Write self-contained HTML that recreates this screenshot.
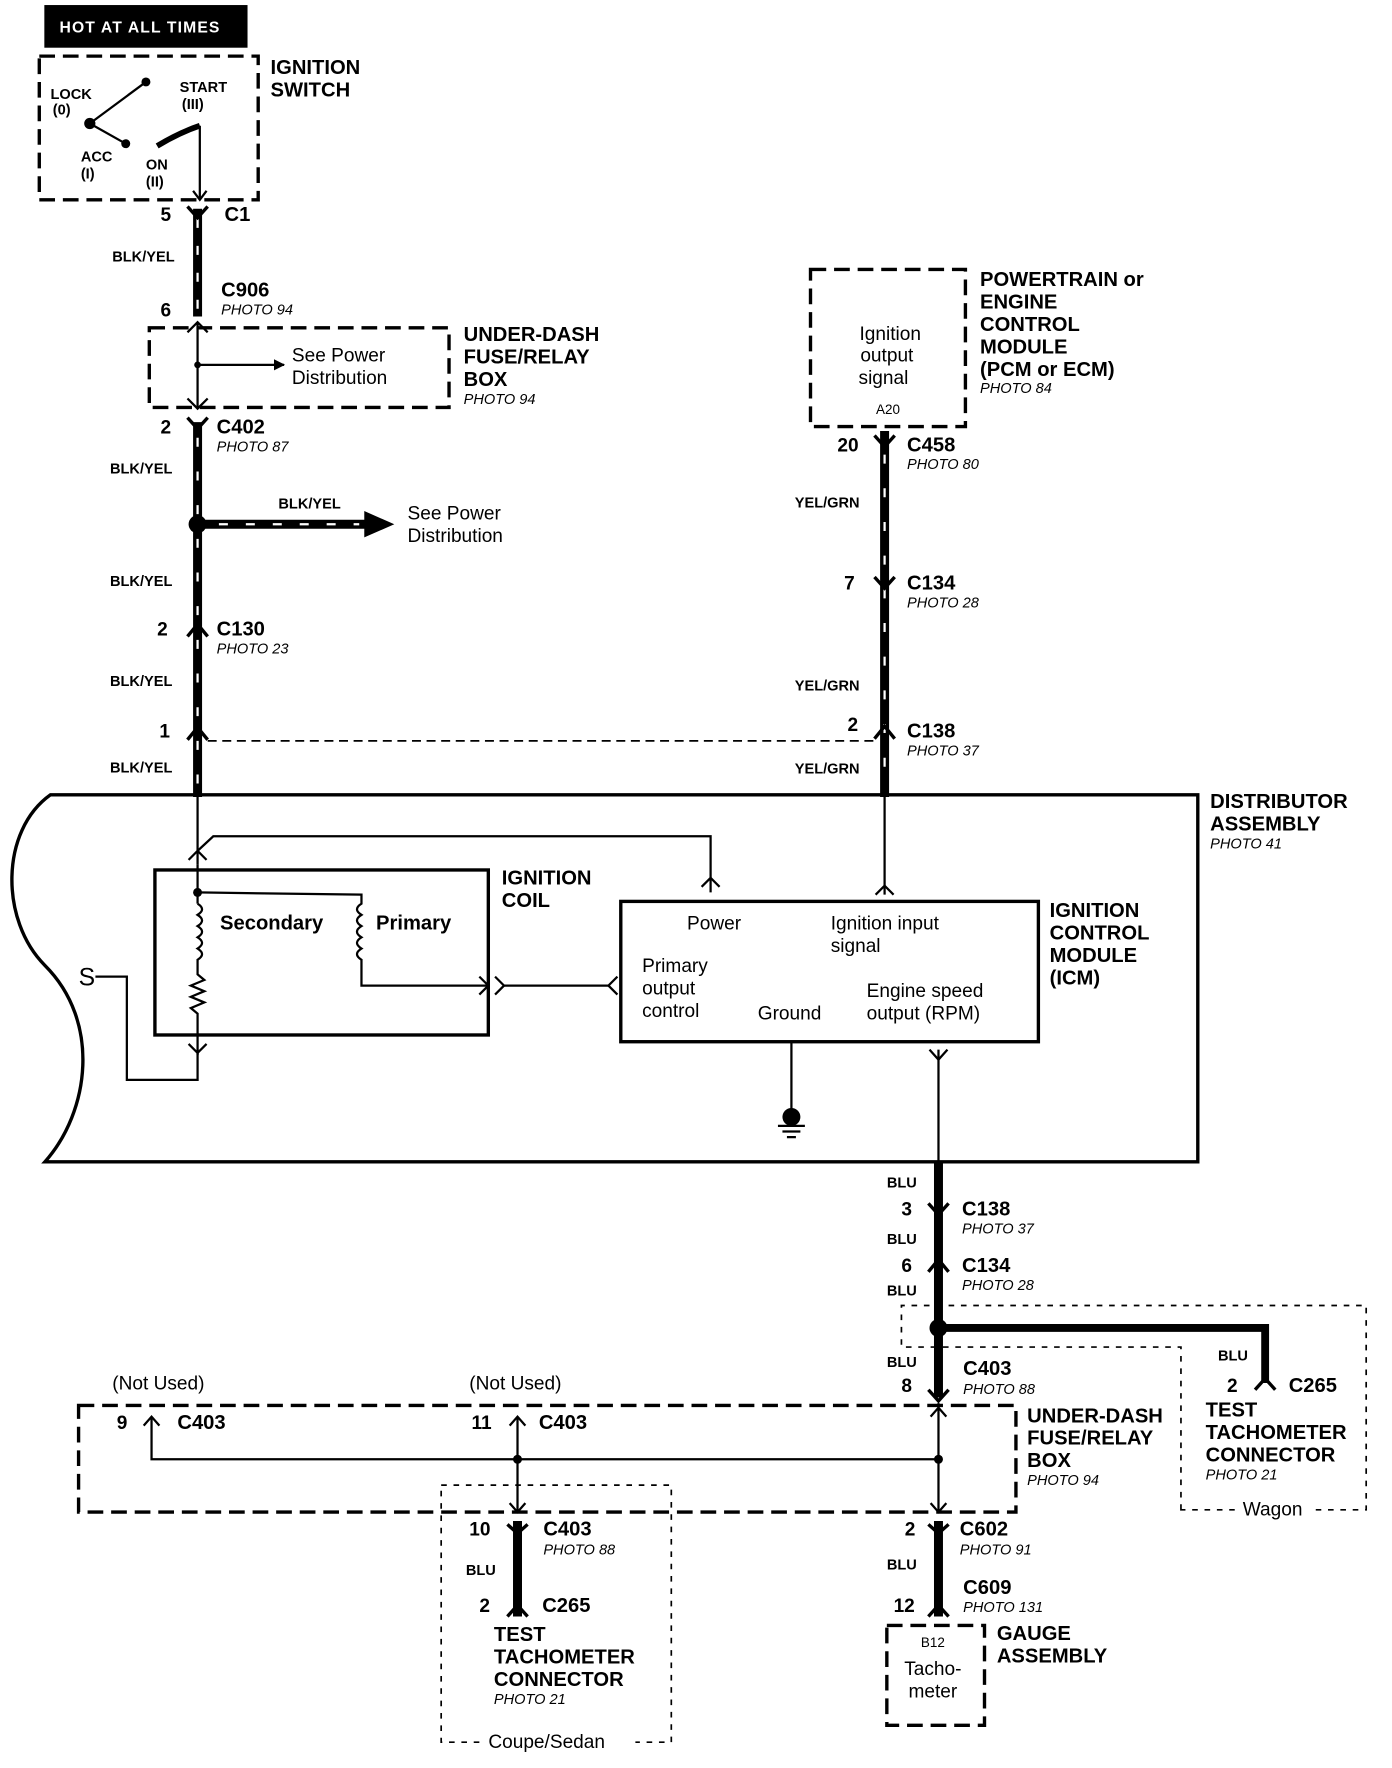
<!DOCTYPE html>
<html><head><meta charset="utf-8"><style>
html,body{margin:0;padding:0;background:#fff;}
svg{display:block;}
text{font-family:"Liberation Sans",Arial,sans-serif;fill:#000;}
.b{font-weight:bold;font-size:18px;}
.w{font-weight:bold;font-size:13px;}
.p{font-style:italic;font-size:13px;}
.n{font-size:17px;}
.pin{font-weight:bold;font-size:17px;}
</style></head><body>
<svg width="1392" height="1768" viewBox="0 0 1240 1575" preserveAspectRatio="none" xmlns="http://www.w3.org/2000/svg">
<defs>
<marker id="ah" markerWidth="10" markerHeight="10" refX="9" refY="5" orient="auto" markerUnits="userSpaceOnUse"><path d="M0,0 L10,5 L0,10 Z" fill="#000"/></marker>
</defs>
<g fill="none" stroke="#000">
<rect x="40" y="5" width="180" height="37" fill="#000"/>
<rect x="35" y="50" width="195" height="128" stroke-width="3" stroke-dasharray="14,7"/>
<line x1="80" y1="110" x2="130" y2="73" stroke-width="2"/>
<line x1="80" y1="110" x2="112" y2="128" stroke-width="2"/>
<path d="M140,130 Q160,118 178,112" stroke-width="5"/>
<line x1="178" y1="112" x2="178" y2="178" stroke-width="2"/>
<path d="M172,170 L178,178 L184,170" stroke-width="2"/>
<line x1="176" y1="186" x2="176" y2="282" stroke-width="8"/>
<line x1="176" y1="376" x2="176" y2="710" stroke-width="8"/>
<line x1="176" y1="195" x2="176" y2="282" stroke="#fff" stroke-width="2" stroke-dasharray="8,16"/>
<line x1="176" y1="390" x2="176" y2="700" stroke="#fff" stroke-width="2" stroke-dasharray="8,22"/>
<path d="M167,184 L176,194 L185,184" stroke-width="3"/>
<path d="M167,296 L176,287 L185,296" stroke-width="2"/>
<path d="M167,355 L176,364 L185,355" stroke-width="2"/>
<path d="M167,372 L176,382 L185,372" stroke-width="3"/>
<path d="M167,567 L176,556 L185,567" stroke-width="3"/>
<path d="M167,659 L176,648 L185,659" stroke-width="3"/>
<rect x="133" y="292" width="267" height="71" stroke-width="3" stroke-dasharray="14,7"/>
<line x1="176" y1="287" x2="176" y2="364" stroke-width="2"/>
<line x1="176" y1="325" x2="253" y2="325" stroke-width="2" marker-end="url(#ah)"/>
<line x1="176" y1="467" x2="330" y2="467" stroke-width="8"/>
<path d="M325,456 L350,467 L325,478 Z" fill="#000"/>
<line x1="195" y1="467" x2="320" y2="467" stroke="#fff" stroke-width="2" stroke-dasharray="8,16"/>
<line x1="185" y1="660" x2="780" y2="660" stroke-width="1.5" stroke-dasharray="8,5"/>
<rect x="722" y="240" width="138" height="140" stroke-width="3" stroke-dasharray="14,7"/>
<line x1="788" y1="384" x2="788" y2="710" stroke-width="8"/>
<line x1="788" y1="405" x2="788" y2="700" stroke="#fff" stroke-width="2" stroke-dasharray="8,22"/>
<path d="M779,388 L788,398 L797,388" stroke-width="3"/>
<path d="M779,514 L788,524 L797,514" stroke-width="3"/>
<path d="M779,658 L788,647 L797,658" stroke-width="3"/>
<path d="M45,708 L1067,708 L1067,1035 L40,1035 C80,990 90,910 40,860 C0,820 0,740 45,708 Z" stroke-width="3"/>
<line x1="176" y1="710" x2="176" y2="770" stroke-width="2"/>
<path d="M176,758 L190,745 L633,745 L633,795" stroke-width="2"/>
<path d="M625,790 L633,782 L641,790" stroke-width="2"/>
<path d="M168,766 L176,758 L184,766" stroke-width="2"/>
<rect x="138" y="775" width="297" height="147" stroke-width="3"/>
<line x1="176" y1="770" x2="176" y2="805" stroke-width="2"/>
<path d="M176,805 q8,5 0,10 q8,5 0,10 q8,5 0,10 q8,5 0,10 q8,5 0,10 L176,868 l6,5 l-12,5 l12,5 l-12,5 l12,5 l-12,5 l6,5 L176,940" stroke-width="2"/>
<path d="M168,930 L176,938 L184,930" stroke-width="2"/>
<path d="M176,795 L322,797 L322,805 q-8,5 0,10 q-8,5 0,10 q-8,5 0,10 q-8,5 0,10 q-8,5 0,10 L322,878 L435,878" stroke-width="2"/>
<path d="M427,870 L435,878 L427,886" stroke-width="2"/>
<path d="M441,870 L449,878 L441,886" stroke-width="2"/>
<line x1="449" y1="878" x2="542" y2="878" stroke-width="2"/>
<path d="M550,870 L542,878 L550,886" stroke-width="2"/>
<path d="M85,870 L113,870 L113,962 L176,962 L176,935" stroke-width="2"/>
<rect x="553" y="803" width="372" height="125" stroke-width="3"/>
<line x1="788" y1="710" x2="788" y2="797" stroke-width="2"/>
<path d="M780,797 L788,789 L796,797" stroke-width="2"/>
<line x1="705" y1="928" x2="705" y2="990" stroke-width="2"/>
<line x1="693" y1="1003" x2="717" y2="1003" stroke-width="2"/>
<line x1="697" y1="1008" x2="713" y2="1008" stroke-width="2"/>
<line x1="701" y1="1013" x2="709" y2="1013" stroke-width="2"/>
<line x1="836" y1="935" x2="836" y2="1035" stroke-width="2"/>
<path d="M828,935 L836,944 L844,935" stroke-width="2"/>
<line x1="836" y1="1035" x2="836" y2="1245" stroke-width="8"/>
<path d="M827,1072 L836,1082 L845,1072" stroke-width="3"/>
<path d="M827,1133 L836,1122 L845,1133" stroke-width="3"/>
<path d="M827,1238 L836,1248 L845,1238" stroke-width="3"/>
<path d="M836,1183 L1127,1183 L1127,1232" stroke-width="7"/>
<path d="M1118,1238 L1127,1228 L1136,1238" stroke-width="3"/>
<path d="M1052,1345 L1052,1200 L803,1200 L803,1163 L1217,1163 L1217,1345 Z" stroke-width="1.5" stroke-dasharray="5,6"/>
<rect x="70" y="1252" width="835" height="95" stroke-width="3" stroke-dasharray="14,7"/>
<path d="M135,1262 L135,1300 L836,1300" stroke-width="2"/>
<path d="M128,1270 L135,1262 L142,1270" stroke-width="2"/>
<line x1="461" y1="1262" x2="461" y2="1347" stroke-width="2"/>
<path d="M454,1270 L461,1262 L468,1270" stroke-width="2"/>
<path d="M454,1339 L461,1347 L468,1339" stroke-width="2"/>
<line x1="836" y1="1250" x2="836" y2="1347" stroke-width="2"/>
<path d="M829,1262 L836,1254 L843,1262" stroke-width="2"/>
<path d="M829,1339 L836,1347 L843,1339" stroke-width="2"/>
<rect x="393" y="1323" width="205" height="229" stroke-width="1.5" stroke-dasharray="5,6"/>
<line x1="461" y1="1355" x2="461" y2="1440" stroke-width="8"/>
<path d="M452,1358 L461,1366 L470,1358" stroke-width="3"/>
<path d="M452,1440 L461,1430 L470,1440" stroke-width="3"/>
<line x1="836" y1="1355" x2="836" y2="1440" stroke-width="8"/>
<path d="M827,1358 L836,1366 L845,1358" stroke-width="3"/>
<path d="M827,1440 L836,1430 L845,1440" stroke-width="3"/>
<rect x="790" y="1448" width="87" height="89" stroke-width="3" stroke-dasharray="14,7"/>
</g>
<rect x="1100" y="1338" width="72" height="16" fill="#fff"/>
<rect x="428" y="1542" width="138" height="16" fill="#fff"/>
<g fill="#000">
<circle cx="130" cy="73" r="4"/><circle cx="80" cy="110" r="5"/><circle cx="112" cy="128" r="4"/>
<circle cx="176" cy="325" r="3"/>
<circle cx="176" cy="467" r="8"/>
<circle cx="176" cy="795" r="4"/>
<circle cx="705" cy="995" r="8"/>
<circle cx="836" cy="1183" r="8"/>
<circle cx="461" cy="1300" r="4"/><circle cx="836" cy="1300" r="4"/>
</g>
<text x="53" y="29" style="font-size:14px;font-weight:bold;fill:#fff;letter-spacing:1px">HOT AT ALL TIMES</text>
<text class="b" x="241" y="66">IGNITION</text><text class="b" x="241" y="86">SWITCH</text>
<text class="w" x="45" y="88">LOCK</text><text class="w" x="47" y="102">(0)</text>
<text class="w" x="160" y="82">START</text><text class="w" x="162" y="97">(III)</text>
<text class="w" x="72" y="144">ACC</text><text class="w" x="72" y="159">(I)</text>
<text class="w" x="130" y="151">ON</text><text class="w" x="130" y="166">(II)</text>
<text class="pin" x="143" y="197">5</text><text class="b" x="200" y="197">C1</text>
<text class="w" x="100" y="233">BLK/YEL</text>
<text class="b" x="197" y="264">C906</text><text class="p" x="197" y="280">PHOTO 94</text>
<text class="pin" x="143" y="282">6</text>
<text class="n" x="260" y="322">See Power</text><text class="n" x="260" y="342">Distribution</text>
<text class="b" x="413" y="304">UNDER-DASH</text><text class="b" x="413" y="324">FUSE/RELAY</text><text class="b" x="413" y="344">BOX</text>
<text class="p" x="413" y="360">PHOTO 94</text>
<text class="pin" x="143" y="386">2</text><text class="b" x="193" y="386">C402</text><text class="p" x="193" y="402">PHOTO 87</text>
<text class="w" x="98" y="422">BLK/YEL</text>
<text class="w" x="248" y="453">BLK/YEL</text>
<text class="n" x="363" y="463">See Power</text><text class="n" x="363" y="483">Distribution</text>
<text class="w" x="98" y="522">BLK/YEL</text>
<text class="pin" x="140" y="566">2</text><text class="b" x="193" y="566">C130</text><text class="p" x="193" y="582">PHOTO 23</text>
<text class="w" x="98" y="611">BLK/YEL</text>
<text class="pin" x="142" y="657">1</text>
<text class="w" x="98" y="688">BLK/YEL</text>
<text class="n" x="793" y="303" text-anchor="middle">Ignition</text>
<text class="n" x="790" y="322" text-anchor="middle">output</text>
<text class="n" x="787" y="342" text-anchor="middle">signal</text>
<text x="791" y="369" text-anchor="middle" style="font-size:12px">A20</text>
<text class="b" x="873" y="255">POWERTRAIN or</text><text class="b" x="873" y="275">ENGINE</text><text class="b" x="873" y="295">CONTROL</text><text class="b" x="873" y="315">MODULE</text><text class="b" x="873" y="335">(PCM or ECM)</text>
<text class="p" x="873" y="350">PHOTO 84</text>
<text class="pin" x="746" y="402">20</text><text class="b" x="808" y="402">C458</text><text class="p" x="808" y="418">PHOTO 80</text>
<text class="w" x="708" y="452">YEL/GRN</text>
<text class="pin" x="752" y="525">7</text><text class="b" x="808" y="525">C134</text><text class="p" x="808" y="541">PHOTO 28</text>
<text class="w" x="708" y="615">YEL/GRN</text>
<text class="pin" x="755" y="651">2</text><text class="b" x="808" y="657">C138</text><text class="p" x="808" y="673">PHOTO 37</text>
<text class="w" x="708" y="689">YEL/GRN</text>
<text class="b" x="1078" y="720">DISTRIBUTOR</text><text class="b" x="1078" y="740">ASSEMBLY</text><text class="p" x="1078" y="756">PHOTO 41</text>
<text class="b" x="447" y="788">IGNITION</text><text class="b" x="447" y="808">COIL</text>
<text class="b" x="196" y="828">Secondary</text><text class="b" x="335" y="828">Primary</text>
<text x="70" y="878" style="font-size:22px">S</text>
<text class="n" x="612" y="828">Power</text>
<text class="n" x="740" y="828">Ignition input</text><text class="n" x="740" y="848">signal</text>
<text class="n" x="572" y="866">Primary</text><text class="n" x="572" y="886">output</text><text class="n" x="572" y="906">control</text>
<text class="n" x="675" y="908">Ground</text>
<text class="n" x="772" y="888">Engine speed</text><text class="n" x="772" y="908">output (RPM)</text>
<text class="b" x="935" y="817">IGNITION</text><text class="b" x="935" y="837">CONTROL</text><text class="b" x="935" y="857">MODULE</text><text class="b" x="935" y="877">(ICM)</text>
<text class="w" x="790" y="1058">BLU</text>
<text class="pin" x="803" y="1083">3</text><text class="b" x="857" y="1083">C138</text><text class="p" x="857" y="1099">PHOTO 37</text>
<text class="w" x="790" y="1108">BLU</text>
<text class="pin" x="803" y="1133">6</text><text class="b" x="857" y="1133">C134</text><text class="p" x="857" y="1149">PHOTO 28</text>
<text class="w" x="790" y="1154">BLU</text>
<text class="w" x="790" y="1218">BLU</text>
<text class="pin" x="803" y="1240">8</text><text class="b" x="858" y="1225">C403</text><text class="p" x="858" y="1242">PHOTO 88</text>
<text class="w" x="1085" y="1212">BLU</text>
<text class="pin" x="1093" y="1240">2</text><text class="b" x="1148" y="1240">C265</text>
<text class="b" x="1074" y="1262">TEST</text><text class="b" x="1074" y="1282">TACHOMETER</text><text class="b" x="1074" y="1302">CONNECTOR</text><text class="p" x="1074" y="1318">PHOTO 21</text>
<text class="n" x="1107" y="1350">Wagon</text>
<text class="n" x="100" y="1238">(Not Used)</text><text class="n" x="418" y="1238">(Not Used)</text>
<text class="pin" x="104" y="1273">9</text><text class="b" x="158" y="1273">C403</text>
<text class="pin" x="420" y="1273">11</text><text class="b" x="480" y="1273">C403</text>
<text class="b" x="915" y="1267">UNDER-DASH</text><text class="b" x="915" y="1287">FUSE/RELAY</text><text class="b" x="915" y="1307">BOX</text><text class="p" x="915" y="1323">PHOTO 94</text>
<text class="pin" x="418" y="1368">10</text><text class="b" x="484" y="1368">C403</text><text class="p" x="484" y="1385">PHOTO 88</text>
<text class="w" x="415" y="1403">BLU</text>
<text class="pin" x="427" y="1436">2</text><text class="b" x="483" y="1436">C265</text>
<text class="b" x="440" y="1462">TEST</text><text class="b" x="440" y="1482">TACHOMETER</text><text class="b" x="440" y="1502">CONNECTOR</text><text class="p" x="440" y="1518">PHOTO 21</text>
<text class="n" x="435" y="1557">Coupe/Sedan</text>
<text class="pin" x="806" y="1368">2</text><text class="b" x="855" y="1368">C602</text><text class="p" x="855" y="1385">PHOTO 91</text>
<text class="w" x="790" y="1398">BLU</text>
<text class="pin" x="796" y="1436">12</text><text class="b" x="858" y="1420">C609</text><text class="p" x="858" y="1436">PHOTO 131</text>
<text x="831" y="1467" text-anchor="middle" style="font-size:12px">B12</text>
<text class="n" x="831" y="1492" text-anchor="middle">Tacho-</text><text class="n" x="831" y="1512" text-anchor="middle">meter</text>
<text class="b" x="888" y="1461">GAUGE</text><text class="b" x="888" y="1481">ASSEMBLY</text>
</svg>
</body></html>
